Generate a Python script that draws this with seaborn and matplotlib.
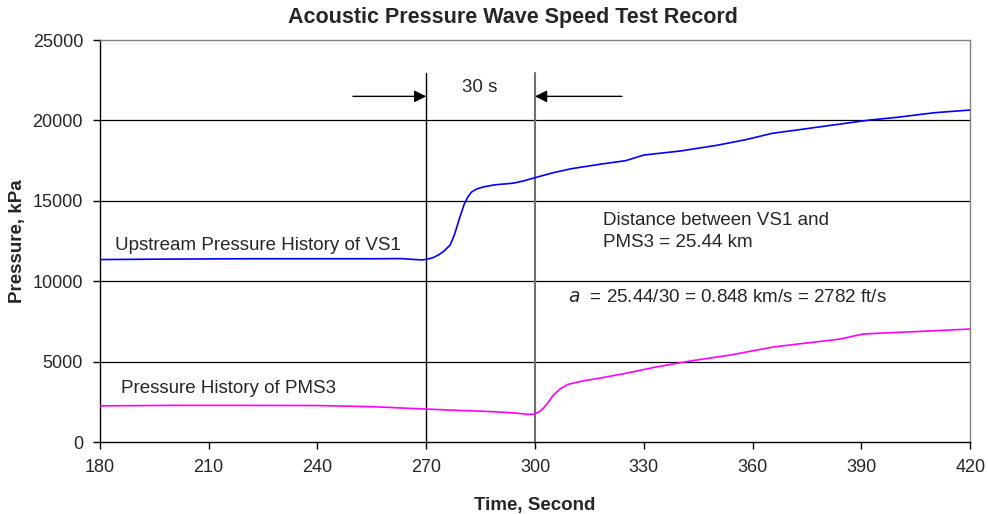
import numpy as np
import pandas as pd
import seaborn as sns
import matplotlib.pyplot as plt

# Upstream pressure history at VS1 (blue)
vs1_time = [180, 200, 220, 240, 255, 263, 267, 269, 270.5, 272, 273.5, 275, 276.6,
            277.8, 279.3, 280.5, 281.5, 282.5, 284, 286, 289, 294, 297, 300.6,
            305, 310, 318, 325, 330, 340, 350, 358, 365.4, 372, 380, 392, 400,
            410, 420]
vs1_pressure = [11350, 11380, 11400, 11400, 11400, 11410, 11350, 11330, 11380, 11480,
                11650, 11900, 12250, 12900, 14000, 14800, 15250, 15550, 15750,
                15880, 16000, 16100, 16250, 16480, 16750, 17000, 17280, 17500,
                17850, 18100, 18450, 18800, 19200, 19400, 19650, 20020, 20200,
                20480, 20650]

# Pressure history at PMS3 (magenta)
pms3_time = [180, 200, 220, 240, 255, 270, 276.6, 288.4, 295, 298, 299.5, 301,
             302.3, 303.6, 305, 306.9, 309, 313, 318, 325.4, 333, 342.8, 353.8,
             365.7, 372.3, 384, 390.5, 400, 408, 420]
pms3_pressure = [2250, 2280, 2280, 2270, 2200, 2050, 1990, 1890, 1800, 1720, 1730,
                 1850, 2100, 2450, 2900, 3300, 3580, 3790, 3980, 4290, 4650, 5040,
                 5410, 5910, 6090, 6400, 6720, 6820, 6900, 7030]

x_ticks = [180, 210, 240, 270, 300, 330, 360, 390, 420]
y_ticks = [0, 5000, 10000, 15000, 20000, 25000]

sns.set_theme(style="white")
plt.rcParams['font.family'] = ['Liberation Sans', 'DejaVu Sans']

fig = plt.figure(figsize=(9.88, 5.14), dpi=100)
ax = fig.add_axes([0.101, 0.140, 0.881, 0.782])

for yv in y_ticks[1:-1]:
    ax.axhline(yv, color='black', lw=0.9, zorder=1)

vs1 = pd.DataFrame({'t': vs1_time, 'p': vs1_pressure})
pms3 = pd.DataFrame({'t': pms3_time, 'p': pms3_pressure})
sns.lineplot(data=vs1, x='t', y='p', color='#0000ff', lw=1.2, ax=ax, zorder=3)
sns.lineplot(data=pms3, x='t', y='p', color='#ff00ff', lw=1.2, ax=ax, zorder=3)

# marker lines for the 30 s interval
ax.plot([270, 270], [0, 22950], color='black', lw=1.0, clip_on=False, zorder=2)
ax.plot([300, 300], [0, 22950], color='#707070', lw=1.5, clip_on=False, zorder=2)
ax.annotate('', xy=(270, 21500), xytext=(249.8, 21500),
            arrowprops=dict(arrowstyle='-|>', color='black', lw=1.0,
                            mutation_scale=18, shrinkA=0, shrinkB=0))
ax.annotate('', xy=(300, 21500), xytext=(324, 21500),
            arrowprops=dict(arrowstyle='-|>', color='black', lw=1.0,
                            mutation_scale=18, shrinkA=0, shrinkB=0))

fs = 13.5
ax.text(284.7, 22050, '30 s', fontsize=fs, ha='center', va='center')
ax.text(184.1, 12250, 'Upstream Pressure History of VS1', fontsize=fs, va='center')
ax.text(185.8, 3360, 'Pressure History of PMS3', fontsize=fs, va='center')
ax.text(318.8, 13800, 'Distance between VS1 and', fontsize=fs, va='center')
ax.text(318.8, 12380, 'PMS3 = 25.44 km', fontsize=fs, va='center')
ax.text(309, 9020, r'$a$  = 25.44/30 = 0.848 km/s = 2782 ft/s', fontsize=fs, va='center')

ax.set_xlim(180, 420)
ax.set_ylim(0, 25000)
ax.set_xticks(x_ticks)
ax.set_yticks(y_ticks)
ax.tick_params(axis='both', direction='out', length=5, width=1, color='black',
               labelsize=13, pad=7, bottom=True, left=True)
for s in ax.spines.values():
    s.set_color('black')
    s.set_linewidth(1.0)
ax.spines['right'].set_color('#808080')
ax.spines['top'].set_color('#808080')

ax.set_title('Acoustic Pressure Wave Speed Test Record', fontsize=15.5,
             fontweight='bold', pad=12, x=0.475)
ax.set_xlabel('Time, Second', fontsize=13.5, fontweight='bold', labelpad=15)
ax.set_ylabel('Pressure, kPa', fontsize=13.5, fontweight='bold', labelpad=5)

fig.savefig('out.png', dpi=100)
